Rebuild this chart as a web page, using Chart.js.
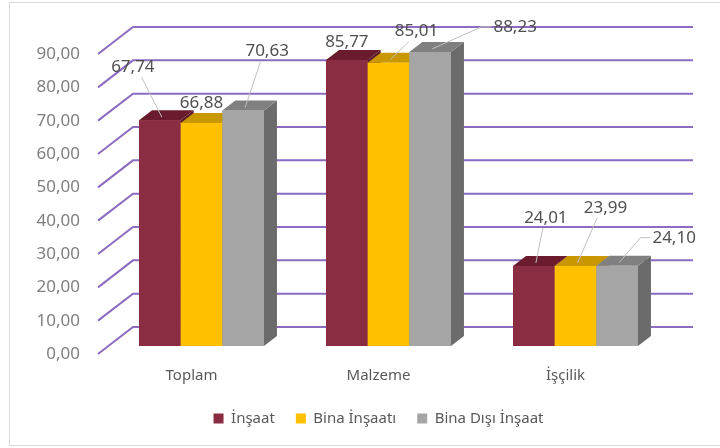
<!DOCTYPE html>
<html>
<head>
<meta charset="utf-8">
<script src="https://cdn.jsdelivr.net/npm/chart.js@4.4.1/dist/chart.umd.min.js"></script>
<style>
  html, body { margin: 0; padding: 0; background: #fff; }
  #wrap { position: relative; width: 720px; height: 448px; overflow: hidden; }
  #frame { position: absolute; left: 9px; top: 2px; width: 720px; height: 442px; border: 1px solid #d9d9d9; pointer-events: none; }
</style>
</head>
<body>
<div id="wrap">
  <canvas id="costChart" width="720" height="448"></canvas>
  <div id="frame"></div>
</div>
<script>
const categories = ['Toplam', 'Malzeme', 'İşçilik'];
const seriesNames = ['İnşaat', 'Bina İnşaatı', 'Bina Dışı İnşaat'];
const insaat = [67.74, 85.77, 24.01];
const binaInsaati = [66.88, 85.01, 23.99];
const binaDisiInsaat = [70.63, 88.23, 24.10];
const yTicks = [0, 10, 20, 30, 40, 50, 60, 70, 80, 90];

// face colours per series: front, top, side
const frontColors = ['#8b2d42', '#ffc000', '#a5a5a5'];
const topColors = ['#6a1c2e', '#c99800', '#808080'];
const sideColors = ['#5a1726', '#a67d00', '#6b6b6b'];

// where each value label sits, relative to its bar's top (px)
const labelOffsets = [
  [[-27, -53], [0, -18], [12, -48]],
  [[0, -20], [28, -31], [30, -58]],
  [[24, -59], [85, -25], [57, -28]]
];

const FONT = '"Noto Sans", "Open Sans", sans-serif';
const GRID_COLOR = '#8b6cc0';
const GRID_RIGHT = 693;
const WALL = { dx: 35, dy: -27 };   // front of floor -> back wall
const SHIFT = { dx: 10, dy: -8 };   // front of floor -> front of bars
const BAR_DEPTH = { dx: 13, dy: -10 };

const fmt = v => v.toFixed(2).replace('.', ',');

function poly(ctx, pts, color) {
  ctx.beginPath();
  ctx.moveTo(pts[0][0], pts[0][1]);
  for (let k = 1; k < pts.length; k++) ctx.lineTo(pts[k][0], pts[k][1]);
  ctx.closePath();
  ctx.fillStyle = color;
  ctx.fill();
}

const threeD = {
  id: 'threeD',
  beforeDatasetsDraw(chart) {
    const { ctx, chartArea, scales: { y } } = chart;
    ctx.save();
    ctx.strokeStyle = GRID_COLOR;
    ctx.lineWidth = 2;
    y.ticks.forEach(t => {
      const py = y.getPixelForValue(t.value);
      ctx.beginPath();
      ctx.moveTo(chartArea.left, py);
      ctx.lineTo(chartArea.left + WALL.dx, py + WALL.dy);
      ctx.lineTo(GRID_RIGHT, py + WALL.dy);
      ctx.stroke();
    });
    ctx.restore();
    ctx.save();
    ctx.translate(SHIFT.dx, SHIFT.dy);
  },
  afterDatasetsDraw(chart) {
    const { ctx } = chart;
    const n = chart.data.datasets.length;
    for (let i = 0; i < categories.length; i++) {
      for (let d = 0; d < n; d++) {
        const el = chart.getDatasetMeta(d).data[i];
        const l = el.x - el.width / 2, r = el.x + el.width / 2;
        const top = el.y, base = el.base;
        const bx = BAR_DEPTH.dx, by = BAR_DEPTH.dy;
        poly(ctx, [[r, top], [r + bx, top + by], [r + bx, base + by], [r, base]], sideColors[d]);
        poly(ctx, [[l, top], [r, top], [r + bx, top + by], [l + bx, top + by]], topColors[d]);
        poly(ctx, [[l, top], [r, top], [r, base], [l, base]], frontColors[d]);
      }
    }
    ctx.restore();

    // value labels with leader lines
    ctx.save();
    ctx.font = '17px ' + FONT;
    ctx.textAlign = 'center';
    ctx.textBaseline = 'middle';
    for (let d = 0; d < n; d++) {
      const values = chart.data.datasets[d].data;
      chart.getDatasetMeta(d).data.forEach((el, i) => {
        const ax = el.x + SHIFT.dx + 2, ay = el.y + SHIFT.dy - 3;
        const cx = el.x + SHIFT.dx + labelOffsets[d][i][0];
        const cy = el.y + SHIFT.dy + labelOffsets[d][i][1];
        const text = fmt(values[i]);
        const hw = ctx.measureText(text).width / 2;
        ctx.strokeStyle = '#bfbfbf';
        ctx.lineWidth = 1;
        if (Math.abs(ax - cx) > hw + 10) {
          const sx = cx - hw - 2;
          ctx.beginPath();
          ctx.moveTo(sx, cy);
          ctx.lineTo(sx - 10, cy);
          ctx.lineTo(ax, ay);
          ctx.stroke();
        } else if (ay - (cy + 10) > 10) {
          ctx.beginPath();
          ctx.moveTo(cx + (ax - cx) * 0.3, cy + 10);
          ctx.lineTo(ax, ay);
          ctx.stroke();
        }
        ctx.fillStyle = '#505050';
        ctx.fillText(text, cx, cy);
      });
    }
    ctx.restore();
  }
};

new Chart(document.getElementById('costChart'), {
  type: 'bar',
  data: {
    labels: categories,
    datasets: [
      { label: seriesNames[0], data: insaat, backgroundColor: frontColors[0] },
      { label: seriesNames[1], data: binaInsaati, backgroundColor: frontColors[1] },
      { label: seriesNames[2], data: binaDisiInsaat, backgroundColor: frontColors[2] }
    ]
  },
  options: {
    responsive: false,
    animation: false,
    devicePixelRatio: 1,
    layout: { padding: { top: 54, right: 61, bottom: 12, left: 0 } },
    datasets: { bar: { categoryPercentage: 0.668, barPercentage: 1, borderWidth: 0, clip: false } },
    scales: {
      x: {
        grid: { display: false, drawTicks: false },
        border: { display: false },
        ticks: { color: '#595959', font: { family: FONT, size: 15 }, padding: 13 },
        afterFit: s => { s.height = 36; }
      },
      y: {
        min: 0,
        max: 90,
        afterBuildTicks: s => { s.ticks = yTicks.map(v => ({ value: v })); },
        grid: { display: false, drawTicks: false },
        border: { display: false },
        ticks: { color: '#7f7f7f', font: { family: FONT, size: 17 }, padding: 18, callback: v => fmt(v) },
        afterFit: s => { s.width = 98; }
      }
    },
    plugins: {
      legend: {
        position: 'bottom',
        fullSize: false,
        labels: { boxWidth: 10, boxHeight: 10, padding: 21, color: '#595959', font: { family: FONT, size: 15 } }
      },
      tooltip: { enabled: false }
    }
  },
  plugins: [threeD]
});
</script>
</body>
</html>
